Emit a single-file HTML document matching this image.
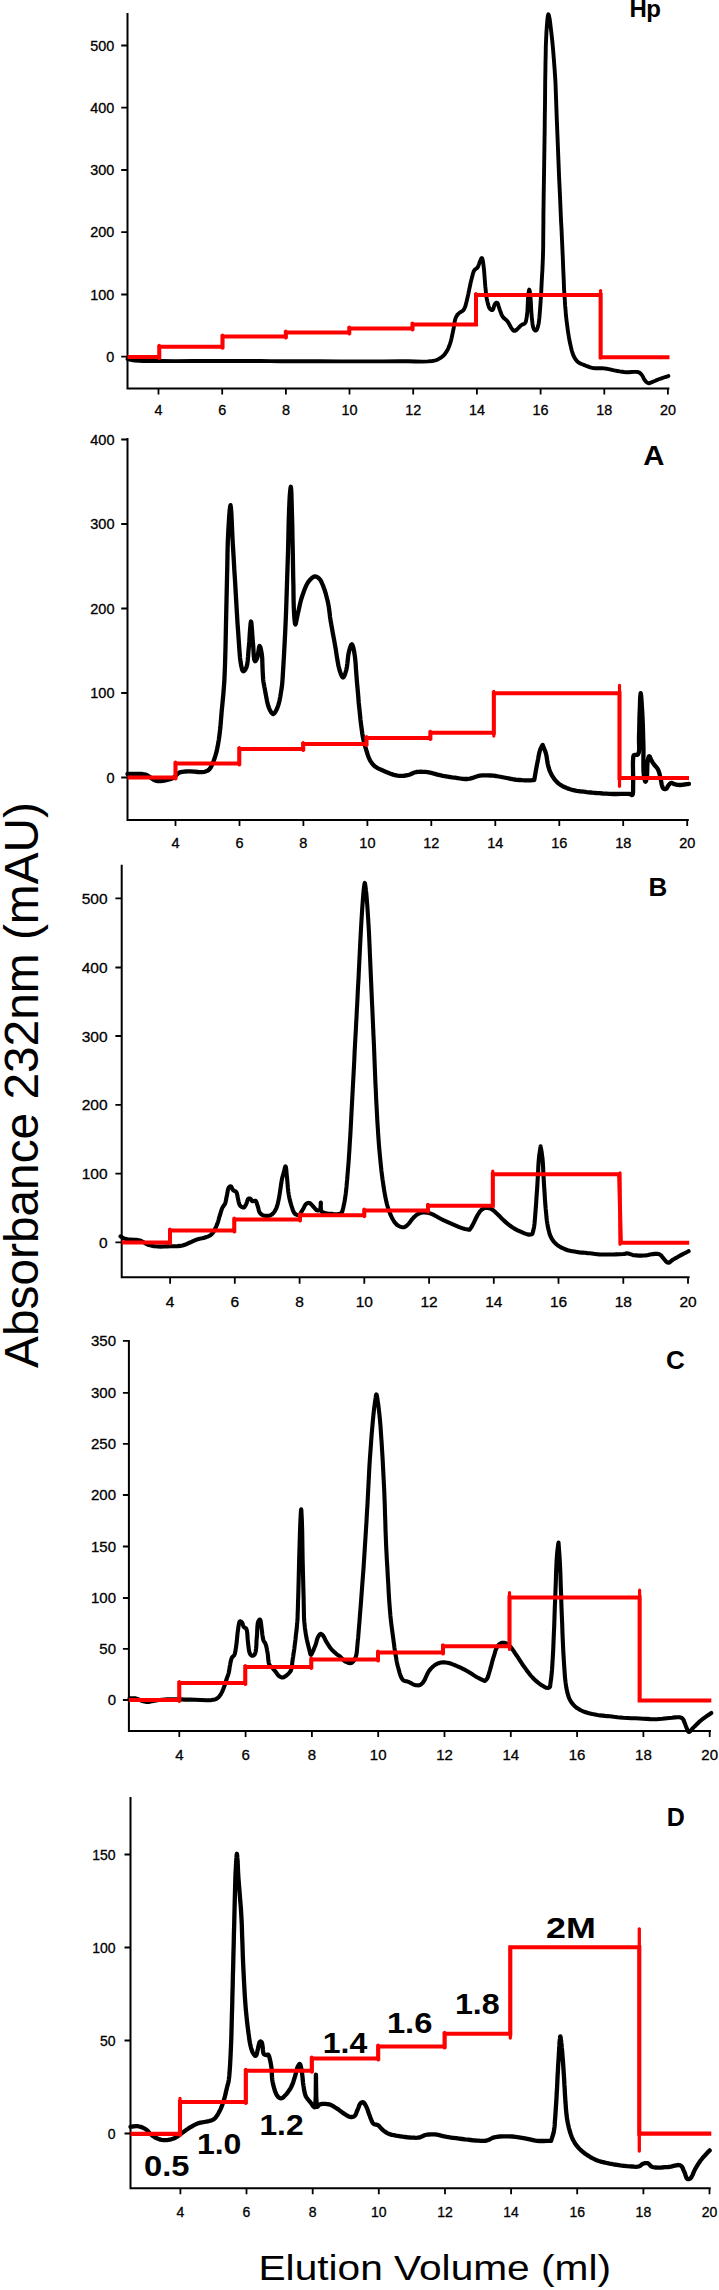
<!DOCTYPE html>
<html lang="en"><head><meta charset="utf-8"><title>Absorbance 232nm vs Elution Volume</title>
<style>
html,body{margin:0;padding:0;background:#fff}
body{width:719px;height:2290px;overflow:hidden}
svg{display:block}
text{font-family:"Liberation Sans",Arial,Helvetica,sans-serif;fill:#000}
.tl text{stroke:#000;stroke-width:0.3}
.axis{fill:none;stroke:#000;stroke-width:2;stroke-linecap:square}
.tick{fill:none;stroke:#000;stroke-width:1.8}
.bk{fill:none;stroke:#000;stroke-linejoin:round;stroke-linecap:round}
.rd{fill:none;stroke:#f00;stroke-linejoin:miter;stroke-linecap:butt}
.ov{fill:none;stroke:#f00;stroke-linecap:round}
.pl,.an{font-weight:bold}
</style></head><body>
<svg width="719" height="2290" viewBox="0 0 719 2290">
<rect width="719" height="2290" fill="#fff"/>
<g class="panel">
<path class="axis" d="M127.5 14.0V388.5H668.4"/>
<path class="tick" d="M121.2 45.5H127.5M121.2 107.7H127.5M121.2 170.0H127.5M121.2 232.2H127.5M121.2 294.5H127.5M121.2 356.7H127.5M158.5 388.5V394.5M222.2 388.5V394.5M285.9 388.5V394.5M349.5 388.5V394.5M413.2 388.5V394.5M476.9 388.5V394.5M540.6 388.5V394.5M604.3 388.5V394.5M667.9 388.5V394.5"/>
<g class="tl" font-size="14.4">
<text x="114.3" y="50.7" text-anchor="end">500</text>
<text x="114.3" y="112.9" text-anchor="end">400</text>
<text x="114.3" y="175.2" text-anchor="end">300</text>
<text x="114.3" y="237.4" text-anchor="end">200</text>
<text x="114.3" y="299.7" text-anchor="end">100</text>
<text x="114.3" y="361.9" text-anchor="end">0</text>
<text x="158.5" y="415.2" text-anchor="middle">4</text>
<text x="222.2" y="415.2" text-anchor="middle">6</text>
<text x="285.9" y="415.2" text-anchor="middle">8</text>
<text x="349.5" y="415.2" text-anchor="middle">10</text>
<text x="413.2" y="415.2" text-anchor="middle">12</text>
<text x="476.9" y="415.2" text-anchor="middle">14</text>
<text x="540.6" y="415.2" text-anchor="middle">16</text>
<text x="604.3" y="415.2" text-anchor="middle">18</text>
<text x="667.9" y="415.2" text-anchor="middle">20</text>
</g>
<polyline class="bk" stroke-width="3.9" points="127.5,359.0 128.0,359.1 129.2,359.5 131.0,359.9 133.0,360.3 135.0,360.6 138.8,360.9 143.2,361.0 148.2,361.0 153.8,361.0 160.0,361.0 174.9,361.1 193.2,361.0 213.2,361.0 232.8,361.0 250.0,361.0 260.7,361.0 270.2,361.1 279.5,361.2 289.1,361.3 300.0,361.3 318.7,361.3 340.2,361.4 362.3,361.4 383.0,361.4 400.0,361.3 408.0,361.3 415.5,361.5 422.2,361.6 427.9,361.4 432.5,361.0 434.1,360.7 435.4,360.4 436.6,360.0 437.7,359.5 438.8,358.9 440.1,358.1 441.4,357.3 442.7,356.3 443.9,355.1 445.0,353.9 446.2,352.2 447.3,350.3 448.3,348.3 449.2,346.1 450.0,343.9 450.8,341.3 451.5,338.5 452.1,335.6 452.7,332.8 453.3,330.0 453.8,327.4 454.2,324.7 454.6,322.0 455.1,319.6 455.8,317.6 456.3,316.6 456.9,315.7 457.4,314.9 458.1,314.1 458.8,313.4 459.7,312.6 460.8,312.0 461.9,311.4 462.9,310.6 463.8,309.6 464.8,307.7 465.6,305.5 466.2,302.9 466.9,300.3 467.5,297.6 468.3,294.2 469.0,290.6 469.8,286.9 470.5,283.3 471.3,280.1 471.9,277.8 472.5,275.5 473.0,273.4 473.7,271.5 474.5,270.0 475.1,269.4 475.7,268.9 476.3,268.6 476.9,268.2 477.5,267.6 478.1,266.5 478.6,265.2 479.1,263.8 479.5,262.5 480.0,261.3 480.4,260.5 480.7,259.6 481.1,258.8 481.5,258.2 481.8,258.0 482.2,258.4 482.5,259.4 482.8,260.7 483.0,262.2 483.3,263.8 483.7,266.9 484.1,270.6 484.4,274.6 484.7,278.7 485.0,282.6 485.3,286.2 485.7,289.9 486.0,293.5 486.4,296.9 487.0,300.0 487.5,302.1 488.0,304.2 488.6,306.1 489.2,307.7 490.0,308.9 490.5,309.3 491.0,309.7 491.5,310.0 492.0,310.1 492.5,310.0 493.1,309.3 493.6,308.0 494.0,306.4 494.5,305.0 495.0,303.9 495.4,303.5 495.8,303.1 496.2,302.8 496.6,302.6 497.0,302.6 497.6,303.2 498.1,304.3 498.5,305.8 499.0,307.4 499.5,308.9 500.0,310.4 500.6,312.0 501.1,313.5 501.7,315.0 502.5,316.4 503.4,317.5 504.4,318.5 505.5,319.4 506.5,320.3 507.5,321.4 508.5,322.9 509.4,324.5 510.3,326.2 511.1,327.7 512.0,328.9 512.5,329.5 513.0,330.0 513.5,330.5 514.0,330.8 514.5,330.9 515.1,330.8 515.7,330.5 516.3,330.0 516.9,329.4 517.5,328.9 518.2,328.2 519.0,327.4 519.7,326.6 520.5,325.8 521.3,325.1 522.0,324.7 522.8,324.4 523.6,324.1 524.4,323.7 525.0,323.1 525.7,321.9 526.1,320.5 526.4,318.9 526.7,317.0 527.0,315.1 527.4,311.5 527.6,307.2 527.8,302.6 528.0,298.4 528.3,295.1 528.5,293.6 528.7,292.1 528.9,290.8 529.1,289.9 529.3,289.6 529.5,290.1 529.8,291.5 530.0,293.4 530.3,295.5 530.5,297.6 530.8,301.1 531.0,305.2 531.2,309.6 531.5,313.8 531.8,317.6 532.1,320.2 532.4,322.9 532.7,325.3 533.2,327.4 533.8,328.9 534.2,329.5 534.6,330.0 535.0,330.3 535.4,330.6 535.8,330.6 536.3,330.3 536.8,329.6 537.2,328.7 537.6,327.6 538.0,326.4 538.6,323.9 539.0,320.9 539.4,317.5 539.7,313.9 540.0,310.1 540.4,304.6 540.8,298.6 541.2,292.3 541.5,286.1 541.8,280.1 542.1,274.9 542.4,269.9 542.6,264.9 542.8,260.0 543.0,255.0 543.1,250.1 543.2,245.2 543.2,240.3 543.3,235.3 543.3,230.0 543.4,223.3 543.4,216.4 543.5,209.2 543.6,201.7 543.7,193.6 543.9,181.7 544.1,168.7 544.3,155.2 544.5,141.6 544.7,128.5 544.8,116.4 545.0,104.2 545.1,92.3 545.2,80.8 545.4,70.0 545.5,61.9 545.7,54.0 545.8,46.5 546.1,39.5 546.4,33.0 546.7,28.2 547.1,23.2 547.5,18.7 547.9,15.5 548.4,14.2 548.9,15.4 549.6,18.6 550.2,23.1 550.8,28.2 551.4,33.0 552.2,40.3 553.0,48.6 553.7,57.4 554.4,66.3 555.0,75.0 555.5,83.3 555.8,91.6 556.1,99.9 556.4,108.4 556.7,117.0 557.1,126.7 557.5,136.7 557.9,146.8 558.3,156.9 558.7,167.0 559.1,177.3 559.6,187.9 560.1,198.4 560.5,208.2 560.9,217.0 561.1,222.2 561.4,226.8 561.6,231.2 561.8,235.6 562.0,240.0 562.2,244.5 562.4,248.9 562.6,253.3 562.8,257.8 563.0,262.6 563.2,268.6 563.5,275.0 563.8,281.6 564.0,288.1 564.4,294.3 564.8,299.8 565.1,305.2 565.6,310.6 566.0,315.8 566.6,320.9 567.2,325.6 567.8,330.2 568.5,334.8 569.2,339.0 570.0,343.0 570.6,345.7 571.2,348.3 571.8,350.7 572.5,353.0 573.3,355.1 574.0,356.7 574.8,358.1 575.7,359.5 576.6,360.7 577.7,361.8 578.9,362.7 580.1,363.4 581.5,364.0 582.9,364.5 584.3,365.1 586.0,365.8 587.7,366.4 589.5,367.1 591.3,367.6 593.2,368.0 595.3,368.2 597.5,368.3 599.7,368.3 602.0,368.3 604.2,368.4 606.4,368.7 608.6,369.2 610.9,369.7 613.1,370.2 615.3,370.6 617.5,371.0 619.7,371.4 621.9,371.7 624.1,372.0 626.3,372.2 628.8,372.2 631.5,372.0 634.2,371.9 636.6,371.9 638.5,372.2 639.4,372.6 640.1,373.1 640.7,373.7 641.2,374.3 641.8,375.0 642.5,376.0 643.1,377.2 643.7,378.4 644.4,379.6 645.1,380.6 645.7,381.3 646.4,382.0 647.1,382.5 647.8,383.0 648.5,383.2 649.3,383.2 650.2,382.9 651.0,382.5 652.0,382.1 652.9,381.7 654.1,381.2 655.4,380.7 656.7,380.1 658.1,379.5 659.5,379.0 661.5,378.3 663.8,377.5 666.0,376.8 667.7,376.3 668.4,376.1"/>
<path class="rd" stroke-width="4.0" d="M127.5 357.1H159.3 V346.8H222.5 V336.5H285.8 V332.5H349.3 V328.5H412.5 V324.5H476.0 V295.0H600.6 V357.2H669.5"/>
<path class="ov" stroke-width="3.20" d="M159.3 345.4V358.5M222.5 335.1V348.2M285.8 331.1V337.9M349.3 327.1V333.9M412.5 323.1V329.9M476.0 293.6V324.5M600.6 290.6V358.0"/>
</g>
<g class="panel">
<path class="axis" d="M127.5 439.0V820.0H687.8"/>
<path class="tick" d="M121.2 439.5H127.5M121.2 524.0H127.5M121.2 608.5H127.5M121.2 693.0H127.5M121.2 777.5H127.5M175.5 820.0V826.0M239.5 820.0V826.0M303.4 820.0V826.0M367.4 820.0V826.0M431.3 820.0V826.0M495.3 820.0V826.0M559.3 820.0V826.0M623.2 820.0V826.0M687.2 820.0V826.0"/>
<g class="tl" font-size="14.5">
<text x="114.5" y="444.7" text-anchor="end">400</text>
<text x="114.5" y="529.2" text-anchor="end">300</text>
<text x="114.5" y="613.7" text-anchor="end">200</text>
<text x="114.5" y="698.2" text-anchor="end">100</text>
<text x="114.5" y="782.7" text-anchor="end">0</text>
<text x="175.5" y="848.0" text-anchor="middle">4</text>
<text x="239.5" y="848.0" text-anchor="middle">6</text>
<text x="303.4" y="848.0" text-anchor="middle">8</text>
<text x="367.4" y="848.0" text-anchor="middle">10</text>
<text x="431.3" y="848.0" text-anchor="middle">12</text>
<text x="495.3" y="848.0" text-anchor="middle">14</text>
<text x="559.3" y="848.0" text-anchor="middle">16</text>
<text x="623.2" y="848.0" text-anchor="middle">18</text>
<text x="687.2" y="848.0" text-anchor="middle">20</text>
</g>
<polyline class="bk" stroke-width="4.3" points="127.5,774.0 128.9,773.9 132.6,773.8 137.3,773.8 142.1,774.0 145.9,774.7 148.0,775.7 149.9,777.0 151.7,778.4 153.4,779.6 155.0,780.5 156.1,780.8 157.2,781.0 158.2,781.1 159.3,781.1 160.5,781.0 162.8,780.8 165.4,780.3 168.1,779.7 170.8,778.9 173.0,778.0 174.4,777.0 175.7,775.8 176.8,774.6 178.0,773.5 179.3,772.6 180.8,772.1 182.3,771.8 184.0,771.6 185.7,771.5 187.6,771.4 190.7,771.4 194.3,771.7 198.1,772.0 201.5,772.1 204.3,771.8 205.5,771.5 206.6,771.1 207.5,770.7 208.4,770.1 209.3,769.3 210.6,767.7 211.7,765.6 212.8,763.2 213.8,760.6 214.7,758.0 215.7,754.7 216.7,751.1 217.5,747.3 218.2,743.4 218.9,739.3 219.6,733.9 220.3,728.1 220.8,722.1 221.3,716.0 221.8,710.0 222.4,704.3 222.9,698.8 223.4,693.2 223.9,687.0 224.4,680.0 225.0,665.2 225.5,647.5 225.9,628.5 226.3,609.7 226.7,592.4 227.0,579.0 227.3,565.9 227.5,553.3 227.8,541.6 228.3,531.2 228.7,524.5 229.1,517.5 229.6,511.3 230.1,506.9 230.5,505.2 230.9,507.6 231.4,513.9 231.8,522.5 232.2,531.8 232.6,540.4 233.2,550.2 233.8,560.5 234.4,571.2 235.1,581.9 235.7,592.4 236.3,602.6 236.9,612.9 237.5,623.1 238.2,632.7 238.8,641.4 239.2,647.1 239.6,652.6 240.0,657.7 240.6,662.2 241.2,665.8 241.6,667.3 241.9,668.8 242.3,670.0 242.8,670.9 243.3,671.3 243.9,671.1 244.5,670.6 245.2,669.7 245.8,668.6 246.4,667.4 247.2,664.5 247.7,660.7 248.1,656.4 248.4,651.9 248.8,647.5 249.3,641.7 249.7,634.9 250.2,628.3 250.6,623.4 251.0,621.5 251.4,622.9 251.7,626.6 252.1,631.5 252.4,636.8 252.8,641.4 253.2,646.0 253.5,651.1 253.8,656.0 254.3,659.6 255.0,661.2 255.4,661.1 255.8,660.6 256.3,659.9 256.7,659.1 257.1,658.2 257.7,655.9 258.2,652.8 258.7,649.6 259.1,647.0 259.6,646.0 260.0,646.5 260.5,647.7 260.9,649.5 261.3,651.5 261.7,653.6 262.2,658.1 262.4,663.7 262.6,669.7 262.9,675.4 263.2,680.0 263.5,682.1 263.8,683.8 264.1,685.4 264.4,687.1 264.8,689.0 265.4,692.5 266.2,696.6 267.0,700.9 267.9,704.8 269.0,708.0 269.7,709.7 270.6,711.3 271.4,712.7 272.3,713.6 273.1,714.0 274.0,713.6 274.8,712.7 275.7,711.3 276.5,709.7 277.3,708.0 278.4,704.9 279.4,701.2 280.2,697.1 280.9,693.0 281.5,689.2 281.9,686.4 282.2,683.8 282.4,681.2 282.6,678.4 282.8,675.0 283.3,666.8 283.9,656.8 284.5,645.7 285.1,634.2 285.6,623.0 286.1,611.1 286.5,598.9 286.9,586.5 287.3,574.1 287.7,561.8 288.1,548.9 288.4,535.2 288.7,521.9 289.1,510.0 289.5,500.6 289.7,496.8 290.0,493.0 290.3,489.9 290.6,487.6 290.8,486.8 291.1,488.7 291.4,493.7 291.6,500.7 291.8,508.5 292.0,515.9 292.3,526.9 292.5,539.5 292.8,552.7 293.0,565.5 293.2,577.1 293.4,585.4 293.5,593.5 293.6,601.2 293.8,608.0 294.1,613.8 294.3,616.7 294.5,619.6 294.8,622.1 295.1,623.8 295.4,624.5 295.8,623.8 296.2,621.9 296.7,619.3 297.2,616.5 297.8,613.8 298.6,610.4 299.4,606.7 300.3,602.8 301.3,599.0 302.4,595.5 303.5,592.5 304.6,589.4 305.8,586.5 307.1,583.9 308.5,581.7 309.6,580.3 310.9,578.9 312.1,577.8 313.4,576.9 314.6,576.5 315.6,576.5 316.5,576.8 317.5,577.2 318.4,577.9 319.2,578.6 320.3,579.9 321.3,581.6 322.1,583.5 323.0,585.6 323.8,587.8 324.9,590.8 325.9,594.2 326.8,597.7 327.7,601.2 328.4,604.6 328.9,607.7 329.3,610.6 329.7,613.6 330.0,616.7 330.5,620.0 331.3,624.6 332.2,629.6 333.1,634.7 334.1,639.9 335.0,645.0 335.9,650.2 336.7,655.7 337.6,661.1 338.5,666.0 339.5,670.0 340.2,672.1 340.9,674.1 341.6,675.8 342.3,677.0 343.0,677.5 343.7,677.0 344.4,675.7 345.1,674.0 345.7,672.0 346.3,670.0 346.9,666.9 347.4,663.2 347.8,659.4 348.2,655.7 348.8,652.5 349.3,650.4 349.9,648.2 350.6,646.2 351.2,644.8 351.8,644.3 352.3,644.8 352.9,646.1 353.4,648.0 353.9,650.3 354.3,652.5 355.0,657.3 355.6,663.1 356.0,669.5 356.5,676.1 357.0,682.5 357.6,689.0 358.2,695.7 358.7,702.4 359.4,708.9 360.0,715.0 360.5,719.9 361.1,724.7 361.7,729.2 362.3,733.6 363.0,737.6 363.6,740.4 364.2,743.0 364.9,745.5 365.6,747.8 366.3,750.2 367.0,752.3 367.6,754.4 368.3,756.5 369.1,758.4 370.0,760.2 370.8,761.6 371.7,762.9 372.7,764.2 373.8,765.3 375.0,766.4 376.7,767.6 378.6,768.6 380.7,769.6 382.8,770.5 385.0,771.4 387.4,772.4 389.9,773.5 392.5,774.4 395.0,775.2 397.5,775.7 399.6,775.9 401.6,775.9 403.6,775.8 405.6,775.5 407.5,775.2 409.3,774.7 411.0,774.0 412.7,773.2 414.5,772.5 416.3,772.0 418.4,771.8 420.6,771.7 422.9,771.8 425.2,771.9 427.5,772.2 429.9,772.6 432.4,773.2 434.9,773.9 437.4,774.6 440.0,775.2 442.9,775.8 446.0,776.3 449.0,776.8 452.1,777.3 455.0,777.7 457.6,778.1 460.1,778.5 462.6,778.9 465.0,779.0 467.5,779.0 470.0,778.6 472.5,777.9 475.0,777.0 477.5,776.2 480.0,775.7 482.6,775.4 485.3,775.3 488.0,775.4 490.6,775.5 493.3,775.7 496.0,776.0 498.7,776.5 501.4,777.0 504.1,777.5 506.6,778.0 508.7,778.4 510.7,778.8 512.6,779.2 514.6,779.5 516.7,779.8 519.4,780.0 522.2,780.2 525.1,780.3 527.8,780.3 530.0,780.3 531.1,780.3 532.3,780.2 533.2,780.2 533.9,780.1 534.2,780.1 534.2,780.1 534.2,780.1 534.2,780.1 534.2,780.1 534.2,780.1 534.5,778.7 535.1,775.2 535.9,770.5 536.8,765.7 537.6,761.7 538.1,759.1 538.5,756.6 539.0,754.2 539.5,752.0 540.1,750.0 540.6,748.7 541.3,747.3 541.9,746.1 542.4,745.2 542.6,744.9 542.6,744.9 542.6,744.9 542.6,744.9 542.6,744.9 542.6,744.9 542.9,745.5 543.5,747.0 544.3,749.0 545.2,751.3 545.9,753.4 546.5,755.9 546.9,758.6 547.3,761.5 547.8,764.2 548.4,766.7 549.0,768.5 549.5,770.3 550.2,771.9 550.9,773.5 551.8,775.1 552.9,776.9 554.0,778.6 555.3,780.3 556.8,781.9 558.4,783.4 560.4,784.9 562.6,786.2 565.0,787.3 567.5,788.4 570.1,789.3 573.3,790.2 576.7,790.8 580.3,791.3 583.7,791.7 586.8,792.1 588.8,792.3 590.7,792.5 592.5,792.7 594.4,792.8 596.4,793.0 599.4,793.2 602.7,793.5 606.1,793.7 609.6,793.9 613.0,794.0 616.6,794.0 620.4,793.9 624.2,793.8 627.4,793.8 629.8,794.0 630.5,794.2 631.0,794.6 631.5,794.9 631.9,795.1 632.3,795.0 632.8,794.2 633.0,792.6 633.1,790.6 633.1,788.3 633.1,785.9 633.2,781.1 633.1,775.2 633.0,769.0 632.9,763.5 633.1,759.4 633.2,758.3 633.2,757.3 633.3,756.5 633.5,755.8 633.9,755.2 634.5,754.9 635.4,754.9 636.4,754.9 637.3,754.8 638.0,754.4 638.9,752.2 639.2,748.9 639.1,744.8 639.0,740.4 639.0,736.2 639.2,731.4 639.3,726.4 639.4,721.2 639.5,716.2 639.7,711.4 639.9,707.0 640.0,702.2 640.2,697.7 640.5,694.5 640.7,693.2 641.0,694.4 641.3,697.6 641.6,702.0 641.9,706.8 642.2,711.4 642.5,717.4 642.8,724.0 643.0,730.8 643.2,737.8 643.4,744.5 643.5,751.2 643.4,758.3 643.4,765.2 643.5,771.2 643.9,775.9 644.2,777.6 644.5,779.1 644.8,780.4 645.2,781.4 645.5,781.7 645.8,781.5 646.1,780.8 646.3,779.8 646.6,778.7 646.8,777.6 647.1,774.8 647.2,771.3 647.3,767.5 647.4,763.9 647.7,761.0 647.9,759.7 648.2,758.4 648.5,757.2 648.8,756.4 649.2,756.1 649.6,756.4 650.0,757.1 650.4,758.1 650.8,759.2 651.3,760.2 651.9,761.2 652.5,762.2 653.2,763.2 653.9,764.2 654.6,765.2 655.3,766.0 656.0,766.8 656.7,767.5 657.3,768.4 657.9,769.3 658.5,770.7 659.1,772.4 659.6,774.1 660.0,775.9 660.4,777.6 660.8,779.3 661.1,781.1 661.4,782.9 661.7,784.5 662.1,785.9 662.4,786.6 662.6,787.3 662.9,787.9 663.3,788.4 663.7,788.8 664.1,789.0 664.7,789.1 665.2,789.1 665.7,789.0 666.2,788.8 666.8,788.3 667.2,787.5 667.7,786.6 668.2,785.7 668.7,785.0 669.2,784.5 669.6,784.0 670.1,783.5 670.7,783.2 671.2,783.0 671.8,783.0 672.4,783.3 673.1,783.6 673.8,783.9 674.5,784.2 675.4,784.4 676.4,784.6 677.4,784.8 678.4,784.9 679.4,785.0 680.4,785.0 681.4,784.9 682.4,784.8 683.4,784.6 684.4,784.5 685.5,784.4 686.7,784.2 687.8,784.1 688.7,783.9 689.0,783.9"/>
<path class="rd" stroke-width="4.0" d="M127.5 777.6H175.5 V763.5H239.3 V749.0H303.2 V744.0H366.5 V738.0H430.4 V732.7H493.8 V693.3H619.5 V778.1H689.0"/>
<path class="ov" stroke-width="3.20" d="M175.5 762.1V779.0M239.3 747.6V764.9M303.2 742.6V750.4M366.5 736.6V745.4M430.4 731.3V739.4M493.8 691.4V736.1M619.5 685.3V786.3"/>
</g>
<g class="panel">
<path class="axis" d="M121.7 865.8V1277.3H688.6"/>
<path class="tick" d="M115.4 898.4H121.7M115.4 967.5H121.7M115.4 1036.0H121.7M115.4 1104.8H121.7M115.4 1173.7H121.7M115.4 1242.4H121.7M170.1 1277.3V1283.8M234.8 1277.3V1283.8M299.6 1277.3V1283.8M364.3 1277.3V1283.8M429.1 1277.3V1283.8M493.8 1277.3V1283.8M558.5 1277.3V1283.8M623.3 1277.3V1283.8M688.0 1277.3V1283.8"/>
<g class="tl" font-size="15.5">
<text x="107.6" y="903.9" text-anchor="end">500</text>
<text x="107.6" y="973.0" text-anchor="end">400</text>
<text x="107.6" y="1041.5" text-anchor="end">300</text>
<text x="107.6" y="1110.3" text-anchor="end">200</text>
<text x="107.6" y="1179.2" text-anchor="end">100</text>
<text x="107.6" y="1247.9" text-anchor="end">0</text>
<text x="170.1" y="1307.2" text-anchor="middle">4</text>
<text x="234.8" y="1307.2" text-anchor="middle">6</text>
<text x="299.6" y="1307.2" text-anchor="middle">8</text>
<text x="364.3" y="1307.2" text-anchor="middle">10</text>
<text x="429.1" y="1307.2" text-anchor="middle">12</text>
<text x="493.8" y="1307.2" text-anchor="middle">14</text>
<text x="558.5" y="1307.2" text-anchor="middle">16</text>
<text x="623.3" y="1307.2" text-anchor="middle">18</text>
<text x="688.0" y="1307.2" text-anchor="middle">20</text>
</g>
<polyline class="bk" stroke-width="4.1" points="120.5,1236.3 120.8,1236.5 121.5,1237.0 122.5,1237.6 123.8,1238.3 125.0,1238.8 127.5,1239.3 130.6,1239.5 134.0,1239.7 137.2,1239.9 140.0,1240.5 141.7,1241.2 143.2,1242.0 144.6,1242.9 146.0,1243.8 147.5,1244.5 148.9,1245.0 150.3,1245.4 151.8,1245.8 153.3,1246.1 155.0,1246.3 157.7,1246.5 160.7,1246.6 163.8,1246.5 167.0,1246.4 170.0,1246.3 172.6,1246.2 175.3,1246.2 177.8,1246.1 180.2,1245.9 182.5,1245.5 184.1,1245.0 185.7,1244.5 187.1,1243.8 188.5,1243.1 190.0,1242.5 191.5,1241.9 193.0,1241.2 194.5,1240.5 196.0,1239.9 197.5,1239.3 199.0,1238.9 200.5,1238.6 202.1,1238.3 203.6,1237.9 205.0,1237.5 206.3,1237.0 207.7,1236.6 209.0,1236.0 210.2,1235.4 211.3,1234.5 212.5,1233.2 213.6,1231.7 214.5,1230.0 215.4,1228.1 216.3,1226.3 217.2,1224.1 218.0,1221.8 218.7,1219.5 219.3,1217.1 220.0,1215.0 220.5,1213.4 221.0,1211.7 221.5,1210.2 221.9,1208.8 222.5,1207.5 223.0,1206.7 223.5,1206.0 224.0,1205.3 224.5,1204.6 225.0,1203.8 225.5,1202.3 225.9,1200.5 226.3,1198.7 226.6,1196.8 227.0,1195.0 227.3,1193.4 227.6,1191.6 227.9,1190.0 228.3,1188.6 228.8,1187.5 229.2,1187.1 229.6,1186.7 230.0,1186.4 230.4,1186.3 230.8,1186.3 231.3,1186.7 231.7,1187.4 232.1,1188.3 232.5,1189.3 233.0,1190.0 233.6,1190.5 234.3,1190.8 235.0,1191.1 235.7,1191.5 236.3,1192.0 236.8,1193.1 237.2,1194.4 237.4,1195.9 237.7,1197.4 238.0,1198.8 238.3,1200.2 238.6,1201.7 239.0,1203.2 239.4,1204.5 240.0,1205.5 240.7,1206.2 241.4,1206.8 242.3,1207.2 243.1,1207.5 243.8,1207.5 244.4,1207.1 244.9,1206.5 245.4,1205.6 245.9,1204.7 246.3,1203.8 246.7,1202.8 247.1,1201.6 247.4,1200.4 247.8,1199.4 248.3,1198.8 248.7,1198.6 249.2,1198.5 249.6,1198.5 250.1,1198.6 250.5,1198.8 250.9,1199.2 251.3,1199.7 251.7,1200.4 252.0,1201.0 252.5,1201.3 253.1,1201.3 253.7,1201.1 254.3,1200.9 255.0,1200.7 255.5,1200.8 256.0,1201.3 256.5,1202.2 256.8,1203.2 257.1,1204.4 257.5,1205.5 258.0,1207.0 258.4,1208.6 258.8,1210.3 259.3,1211.8 260.0,1213.0 260.6,1213.7 261.3,1214.3 262.1,1214.8 262.9,1215.2 263.8,1215.5 265.0,1215.8 266.2,1215.9 267.6,1215.9 268.9,1215.8 270.0,1215.5 270.9,1215.1 271.7,1214.6 272.4,1214.0 273.1,1213.3 273.8,1212.5 274.6,1211.5 275.2,1210.3 275.9,1209.1 276.5,1207.7 277.0,1206.3 277.6,1204.3 278.1,1202.2 278.6,1199.9 279.1,1197.5 279.5,1195.0 280.0,1191.8 280.5,1188.4 281.0,1184.9 281.5,1181.6 282.0,1178.8 282.4,1177.3 282.7,1176.1 283.1,1174.9 283.4,1173.7 283.8,1172.5 284.2,1171.1 284.5,1169.4 284.9,1167.9 285.2,1166.7 285.5,1166.3 285.9,1167.1 286.2,1169.1 286.4,1171.8 286.7,1174.7 287.0,1177.5 287.3,1180.8 287.6,1184.4 287.9,1188.0 288.3,1191.6 288.8,1195.0 289.3,1197.7 289.9,1200.4 290.6,1202.9 291.3,1205.3 292.0,1207.5 292.5,1209.0 293.0,1210.5 293.6,1211.8 294.2,1212.9 295.0,1213.8 295.7,1214.3 296.5,1214.7 297.3,1215.0 298.1,1215.1 298.8,1215.0 299.6,1214.5 300.4,1213.6 301.1,1212.4 301.8,1211.2 302.5,1210.0 303.3,1208.7 304.0,1207.3 304.7,1205.9 305.5,1204.7 306.3,1203.8 306.9,1203.4 307.6,1203.1 308.2,1203.0 308.9,1202.9 309.5,1203.0 310.2,1203.4 310.9,1204.0 311.6,1204.7 312.3,1205.5 313.0,1206.3 313.9,1207.2 314.8,1208.3 315.7,1209.3 316.6,1210.1 317.5,1210.5 318.0,1210.5 318.6,1210.4 319.1,1210.2 319.6,1209.9 320.0,1209.5 320.4,1208.3 320.6,1206.5 320.7,1204.6 320.7,1203.1 320.8,1202.5 320.9,1203.3 320.8,1205.1 320.8,1207.5 321.0,1209.7 321.5,1211.3 322.0,1211.9 322.7,1212.3 323.4,1212.5 324.2,1212.8 325.0,1213.0 325.9,1213.2 326.9,1213.4 327.8,1213.6 328.9,1213.7 330.0,1213.8 331.7,1213.9 333.6,1214.1 335.5,1214.2 337.3,1214.2 338.8,1214.0 339.5,1213.9 340.1,1213.7 340.6,1213.5 341.1,1213.2 341.5,1212.8 342.1,1211.9 342.5,1210.8 342.8,1209.4 343.2,1208.0 343.5,1206.5 344.0,1204.3 344.5,1201.9 344.9,1199.4 345.3,1196.7 345.7,1194.0 346.1,1190.5 346.5,1186.9 346.8,1183.1 347.2,1179.2 347.5,1175.2 347.9,1170.5 348.3,1165.7 348.7,1160.7 349.0,1155.6 349.4,1150.2 349.8,1143.2 350.3,1135.7 350.7,1128.1 351.1,1120.3 351.5,1112.7 351.9,1105.2 352.3,1097.7 352.7,1090.1 353.1,1082.6 353.5,1075.1 353.9,1067.6 354.3,1060.0 354.6,1052.4 355.0,1045.0 355.4,1037.6 355.8,1030.8 356.1,1024.2 356.5,1017.6 356.8,1010.9 357.2,1004.0 357.6,995.8 358.0,987.4 358.5,978.8 358.9,970.2 359.3,961.8 359.7,953.9 360.1,945.9 360.5,938.1 360.9,930.6 361.3,923.6 361.6,918.5 361.9,913.6 362.2,909.0 362.5,904.6 362.8,900.6 363.0,898.0 363.2,895.5 363.4,893.2 363.6,891.0 363.8,889.0 364.0,887.5 364.2,885.9 364.4,884.4 364.6,883.4 364.8,883.0 365.0,883.4 365.2,884.4 365.4,885.9 365.6,887.5 365.8,889.0 366.0,891.0 366.3,893.1 366.5,895.4 366.7,897.9 366.9,900.6 367.3,905.7 367.7,911.5 368.1,917.8 368.5,924.4 368.9,931.2 369.3,939.8 369.7,949.0 370.1,958.4 370.5,967.9 370.9,977.1 371.3,986.1 371.7,995.3 372.1,1004.3 372.5,1012.6 372.8,1020.0 373.0,1023.9 373.1,1027.3 373.3,1030.5 373.4,1033.8 373.6,1037.6 373.9,1044.2 374.2,1051.6 374.5,1059.4 374.8,1067.4 375.1,1075.1 375.4,1082.6 375.8,1090.1 376.1,1097.7 376.5,1105.2 376.9,1112.7 377.3,1120.3 377.8,1128.1 378.3,1135.8 378.8,1143.2 379.4,1150.2 379.9,1155.6 380.4,1160.7 380.9,1165.7 381.4,1170.5 382.0,1175.2 382.5,1179.2 383.1,1183.1 383.6,1186.9 384.2,1190.5 384.8,1194.0 385.3,1196.7 385.8,1199.2 386.3,1201.6 386.9,1204.1 387.6,1206.5 388.4,1209.1 389.4,1211.8 390.4,1214.4 391.5,1216.8 392.6,1219.0 393.5,1220.5 394.4,1221.9 395.4,1223.2 396.5,1224.4 397.6,1225.3 398.8,1226.0 400.1,1226.6 401.4,1227.0 402.7,1227.2 403.9,1227.2 404.8,1226.9 405.6,1226.5 406.4,1225.9 407.2,1225.2 408.0,1224.5 408.9,1223.5 409.8,1222.4 410.7,1221.1 411.6,1219.9 412.5,1218.8 413.4,1217.8 414.4,1216.8 415.4,1215.9 416.4,1215.0 417.5,1214.3 418.4,1213.8 419.4,1213.3 420.4,1213.0 421.4,1212.7 422.5,1212.5 423.9,1212.4 425.3,1212.4 426.8,1212.6 428.4,1212.9 430.0,1213.3 432.1,1214.1 434.3,1215.2 436.6,1216.5 438.8,1217.8 441.1,1219.0 443.3,1220.1 445.6,1221.1 447.8,1222.1 450.1,1223.1 452.3,1224.1 454.6,1225.1 456.9,1226.1 459.2,1227.1 461.4,1227.9 463.4,1228.6 464.9,1229.0 466.5,1229.3 468.0,1229.6 469.1,1229.7 469.5,1229.8 469.5,1229.8 469.5,1229.8 469.5,1229.8 469.5,1229.8 469.5,1229.8 469.7,1229.5 470.2,1228.8 470.9,1227.9 471.6,1226.8 472.3,1225.7 473.1,1224.1 474.0,1222.3 474.9,1220.4 475.8,1218.5 476.7,1216.8 477.5,1215.3 478.4,1213.8 479.3,1212.4 480.2,1211.1 481.2,1210.1 482.0,1209.4 482.9,1208.9 483.7,1208.4 484.7,1208.1 485.6,1207.9 486.7,1207.8 487.8,1207.9 489.0,1208.2 490.1,1208.5 491.2,1209.0 492.4,1209.7 493.5,1210.5 494.6,1211.4 495.7,1212.5 496.8,1213.5 498.1,1214.7 499.4,1216.0 500.7,1217.4 502.0,1218.8 503.4,1220.1 505.1,1221.6 506.8,1223.1 508.6,1224.6 510.5,1226.0 512.3,1227.3 514.0,1228.4 515.8,1229.4 517.6,1230.3 519.4,1231.1 521.2,1231.9 522.8,1232.6 524.5,1233.3 526.1,1233.9 527.6,1234.4 529.0,1234.6 529.9,1234.6 530.8,1234.4 531.6,1234.2 532.2,1234.0 532.4,1233.9 532.4,1233.9 532.4,1233.9 532.4,1233.9 532.4,1233.9 532.4,1233.9 532.5,1233.4 532.9,1232.2 533.3,1230.6 533.7,1228.7 534.1,1226.8 534.5,1223.8 534.8,1220.4 535.1,1216.8 535.4,1212.9 535.7,1209.0 536.1,1204.0 536.4,1198.7 536.8,1193.2 537.2,1187.7 537.5,1182.3 537.8,1177.2 538.1,1172.0 538.3,1166.9 538.6,1162.1 539.0,1157.8 539.3,1154.9 539.8,1151.8 540.2,1149.0 540.5,1147.1 540.6,1146.3 540.6,1146.3 540.6,1146.3 540.6,1146.3 540.6,1146.3 540.6,1146.3 540.7,1147.1 541.1,1149.0 541.6,1151.8 542.0,1154.9 542.4,1157.8 542.8,1162.1 543.1,1166.9 543.3,1172.0 543.6,1177.2 543.9,1182.3 544.2,1187.7 544.6,1193.2 544.9,1198.7 545.3,1204.0 545.7,1209.0 546.1,1212.9 546.4,1216.6 546.8,1220.2 547.3,1223.6 547.9,1226.8 548.4,1229.3 549.0,1231.6 549.6,1233.9 550.4,1236.0 551.3,1237.9 552.2,1239.4 553.2,1240.9 554.3,1242.2 555.5,1243.4 556.8,1244.6 558.4,1245.8 560.1,1246.9 561.9,1247.8 563.8,1248.7 565.7,1249.5 567.8,1250.2 570.0,1250.8 572.3,1251.2 574.6,1251.6 576.9,1252.0 579.5,1252.4 582.2,1252.6 584.9,1252.8 587.5,1253.1 590.0,1253.3 591.9,1253.5 593.6,1253.8 595.3,1254.0 597.2,1254.2 599.3,1254.4 603.7,1254.5 609.2,1254.5 614.8,1254.4 619.8,1254.2 623.5,1254.0 624.5,1253.9 625.3,1253.7 625.9,1253.5 626.6,1253.4 627.4,1253.4 628.6,1253.6 629.8,1254.0 631.1,1254.4 632.5,1254.9 634.0,1255.2 636.2,1255.4 638.6,1255.6 641.2,1255.6 643.6,1255.5 645.7,1255.4 647.0,1255.2 648.1,1255.0 649.2,1254.7 650.3,1254.5 651.5,1254.3 653.0,1254.1 654.7,1253.9 656.4,1253.8 657.9,1253.9 659.3,1254.2 660.2,1254.7 661.0,1255.4 661.7,1256.2 662.3,1257.1 663.1,1257.9 664.0,1259.0 665.0,1260.2 666.0,1261.4 667.0,1262.3 668.0,1262.7 668.9,1262.6 669.8,1262.1 670.8,1261.3 671.8,1260.5 672.8,1259.8 674.2,1259.0 675.7,1258.1 677.3,1257.2 678.9,1256.3 680.5,1255.4 682.4,1254.4 684.5,1253.3 686.5,1252.3 688.0,1251.5 688.6,1251.2"/>
<path class="rd" stroke-width="4.0" d="M121.7 1242.5H170.0 V1230.5H234.3 V1219.6H300.0 V1215.2H364.3 V1210.6H428.0 V1205.8H492.8 V1174.2H619.1 L620.9 1242.8H689.2"/>
<path class="ov" stroke-width="3.20" d="M170.0 1229.1V1243.9M234.3 1218.2V1231.9M300.0 1213.8V1221.0M364.3 1209.2V1216.6M428.0 1204.4V1212.0M492.8 1171.0V1205.8M620.0 1172.8V1244.2"/>
</g>
<g class="panel">
<path class="axis" d="M128.9 1340.9V1731.0H710.0"/>
<path class="tick" d="M122.9 1340.9H128.9M122.9 1392.8H128.9M122.9 1443.9H128.9M122.9 1495.0H128.9M122.9 1546.5H128.9M122.9 1598.0H128.9M122.9 1648.8H128.9M122.9 1700.0H128.9M179.3 1731.0V1737.0M245.6 1731.0V1737.0M311.9 1731.0V1737.0M378.2 1731.0V1737.0M444.5 1731.0V1737.0M510.8 1731.0V1737.0M577.1 1731.0V1737.0M643.4 1731.0V1737.0M709.7 1731.0V1737.0"/>
<g class="tl" font-size="15">
<text x="116.0" y="1346.3" text-anchor="end">350</text>
<text x="116.0" y="1398.2" text-anchor="end">300</text>
<text x="116.0" y="1449.3" text-anchor="end">250</text>
<text x="116.0" y="1500.4" text-anchor="end">200</text>
<text x="116.0" y="1551.9" text-anchor="end">150</text>
<text x="116.0" y="1603.4" text-anchor="end">100</text>
<text x="116.0" y="1654.2" text-anchor="end">50</text>
<text x="116.0" y="1705.4" text-anchor="end">0</text>
<text x="179.3" y="1759.5" text-anchor="middle">4</text>
<text x="245.6" y="1759.5" text-anchor="middle">6</text>
<text x="311.9" y="1759.5" text-anchor="middle">8</text>
<text x="378.2" y="1759.5" text-anchor="middle">10</text>
<text x="444.5" y="1759.5" text-anchor="middle">12</text>
<text x="510.8" y="1759.5" text-anchor="middle">14</text>
<text x="577.1" y="1759.5" text-anchor="middle">16</text>
<text x="643.4" y="1759.5" text-anchor="middle">18</text>
<text x="709.7" y="1759.5" text-anchor="middle">20</text>
</g>
<polyline class="bk" stroke-width="4.1" points="129.5,1698.3 129.9,1698.3 130.9,1698.2 132.2,1698.2 133.7,1698.2 135.0,1698.3 136.5,1698.7 138.0,1699.2 139.6,1699.9 141.1,1700.5 142.5,1701.0 143.5,1701.3 144.5,1701.6 145.5,1701.8 146.4,1701.9 147.5,1702.0 148.9,1701.9 150.3,1701.6 151.8,1701.3 153.3,1700.9 155.0,1700.6 157.2,1700.3 159.6,1700.0 162.1,1699.8 164.7,1699.6 167.5,1699.4 171.6,1699.3 176.0,1699.3 180.6,1699.4 185.3,1699.6 190.0,1699.6 195.2,1699.7 200.9,1700.0 206.4,1700.2 211.3,1700.1 215.0,1699.4 216.4,1698.8 217.4,1698.1 218.4,1697.4 219.2,1696.5 220.0,1695.5 220.9,1694.1 221.7,1692.6 222.5,1690.9 223.2,1689.2 223.8,1687.5 224.4,1686.0 224.9,1684.5 225.4,1683.0 225.8,1681.5 226.3,1680.0 226.8,1678.5 227.3,1677.1 227.9,1675.6 228.4,1674.1 228.8,1672.5 229.2,1670.5 229.5,1668.4 229.8,1666.3 230.2,1664.3 230.5,1662.5 230.8,1661.4 231.0,1660.3 231.3,1659.3 231.6,1658.3 232.0,1657.5 232.4,1657.0 232.9,1656.5 233.4,1656.1 233.9,1655.6 234.3,1655.0 234.9,1653.5 235.3,1651.6 235.7,1649.5 236.0,1647.2 236.3,1645.0 236.7,1642.1 237.0,1639.0 237.3,1635.8 237.6,1632.8 238.0,1630.0 238.3,1627.9 238.6,1625.6 239.0,1623.6 239.4,1622.1 240.0,1621.3 240.4,1621.3 240.8,1621.4 241.2,1621.7 241.6,1622.1 242.0,1622.5 242.4,1623.2 242.7,1624.2 243.0,1625.2 243.4,1626.2 243.8,1627.0 244.3,1627.4 244.8,1627.7 245.3,1627.9 245.9,1628.3 246.3,1628.8 246.9,1630.7 247.3,1633.4 247.5,1636.5 247.7,1639.6 248.0,1642.5 248.3,1645.0 248.6,1647.6 248.9,1650.0 249.4,1652.2 250.0,1653.8 250.4,1654.4 250.9,1655.0 251.5,1655.4 252.0,1655.7 252.5,1655.8 253.0,1655.7 253.6,1655.4 254.1,1655.0 254.6,1654.5 255.0,1653.8 255.7,1651.6 256.1,1648.5 256.4,1644.8 256.5,1641.0 256.8,1637.5 257.1,1634.0 257.2,1630.2 257.4,1626.6 257.7,1623.5 258.3,1621.3 258.6,1620.7 259.0,1620.2 259.3,1619.8 259.7,1619.5 260.0,1619.5 260.5,1620.4 260.9,1622.3 261.2,1624.9 261.5,1627.6 261.8,1630.0 262.1,1632.1 262.3,1634.3 262.6,1636.4 262.9,1638.3 263.3,1640.0 263.7,1640.9 264.1,1641.6 264.6,1642.2 265.1,1643.0 265.5,1643.8 266.0,1645.3 266.4,1646.9 266.8,1648.7 267.1,1650.6 267.5,1652.5 267.9,1655.0 268.1,1657.8 268.4,1660.6 268.8,1663.1 269.5,1665.0 270.0,1665.8 270.6,1666.4 271.2,1666.9 271.9,1667.4 272.5,1668.0 273.2,1668.8 273.8,1669.5 274.5,1670.4 275.1,1671.2 275.8,1672.0 276.4,1672.8 277.0,1673.7 277.6,1674.6 278.3,1675.4 279.0,1676.0 279.7,1676.5 280.4,1676.9 281.2,1677.2 281.9,1677.5 282.7,1677.5 283.6,1677.3 284.4,1676.9 285.3,1676.3 286.2,1675.7 287.0,1675.0 287.9,1674.2 288.7,1673.4 289.5,1672.5 290.3,1671.5 290.9,1670.4 291.5,1668.6 291.9,1666.6 292.1,1664.3 292.3,1662.1 292.6,1660.0 292.9,1658.2 293.2,1656.5 293.4,1654.7 293.7,1652.9 294.0,1651.0 294.4,1648.3 294.7,1645.4 295.1,1642.4 295.5,1639.3 295.8,1636.3 296.1,1633.4 296.5,1630.6 296.8,1627.8 297.0,1624.9 297.3,1621.7 297.6,1617.3 297.7,1612.7 297.9,1607.8 298.0,1602.7 298.2,1597.4 298.4,1590.1 298.6,1582.2 298.8,1574.0 299.0,1565.8 299.2,1558.0 299.4,1551.0 299.6,1544.0 299.8,1537.2 300.0,1530.8 300.2,1525.0 300.4,1521.0 300.6,1516.8 300.8,1513.0 301.0,1510.3 301.2,1509.3 301.4,1510.3 301.5,1513.0 301.7,1516.8 301.9,1521.0 302.0,1525.0 302.2,1530.8 302.3,1537.2 302.4,1544.0 302.5,1551.0 302.6,1558.0 302.8,1565.8 303.0,1574.0 303.2,1582.2 303.4,1590.1 303.6,1597.4 303.7,1602.7 303.8,1607.8 303.9,1612.7 304.0,1617.3 304.3,1621.7 304.6,1624.9 304.9,1627.8 305.3,1630.7 305.7,1633.4 306.2,1636.3 306.8,1639.4 307.5,1642.6 308.3,1645.7 309.0,1648.6 309.6,1650.9 309.9,1652.0 310.1,1653.0 310.3,1653.9 310.6,1654.5 310.9,1654.8 311.3,1654.6 311.7,1653.9 312.1,1653.0 312.6,1652.0 313.0,1651.0 313.6,1649.8 314.1,1648.4 314.7,1647.0 315.3,1645.5 315.8,1644.1 316.3,1642.6 316.6,1641.1 317.0,1639.6 317.5,1638.2 318.0,1637.0 318.5,1636.2 319.0,1635.4 319.5,1634.7 320.0,1634.1 320.6,1633.9 321.1,1633.9 321.6,1634.2 322.1,1634.6 322.5,1635.0 323.0,1635.5 323.5,1636.2 324.0,1637.1 324.5,1638.1 324.9,1639.1 325.5,1640.2 326.3,1641.7 327.3,1643.3 328.3,1644.9 329.3,1646.5 330.4,1648.0 331.5,1649.3 332.7,1650.6 333.9,1651.7 335.1,1652.8 336.2,1653.8 337.0,1654.4 337.7,1654.9 338.5,1655.4 339.2,1655.9 340.0,1656.5 340.9,1657.4 341.9,1658.4 342.9,1659.5 343.9,1660.5 345.0,1661.3 346.2,1661.9 347.5,1662.5 348.9,1663.0 350.2,1663.1 351.3,1663.0 352.3,1662.4 353.2,1661.5 354.1,1660.4 354.8,1659.0 355.5,1657.6 356.3,1655.1 356.8,1652.2 357.1,1648.9 357.4,1645.4 357.7,1641.9 358.2,1637.2 358.6,1632.2 359.0,1626.9 359.5,1621.4 359.9,1615.7 360.5,1608.3 361.1,1600.6 361.7,1592.5 362.3,1584.4 362.9,1576.4 363.5,1568.5 364.0,1560.7 364.5,1552.8 365.0,1545.0 365.5,1537.1 366.0,1529.2 366.5,1521.4 366.9,1513.5 367.4,1505.7 367.8,1497.8 368.2,1490.0 368.6,1482.1 369.0,1474.3 369.4,1466.4 369.9,1458.6 370.5,1450.5 371.1,1442.1 371.7,1433.9 372.4,1426.1 373.0,1419.3 373.4,1415.3 373.8,1411.5 374.2,1408.1 374.6,1404.9 375.0,1402.0 375.3,1400.0 375.6,1398.0 375.8,1396.2 376.1,1394.9 376.4,1394.4 376.7,1394.9 377.0,1396.2 377.3,1398.0 377.6,1400.0 377.9,1402.0 378.3,1404.9 378.7,1408.1 379.1,1411.5 379.5,1415.3 379.9,1419.3 380.5,1426.1 381.0,1433.9 381.6,1442.1 382.1,1450.5 382.6,1458.6 383.0,1466.4 383.4,1474.3 383.8,1482.1 384.2,1490.0 384.5,1497.8 384.8,1505.7 385.0,1513.5 385.3,1521.4 385.5,1529.2 385.8,1537.1 386.1,1545.0 386.5,1552.8 386.9,1560.7 387.4,1568.5 387.8,1576.4 388.3,1584.4 388.7,1592.5 389.2,1600.6 389.8,1608.4 390.4,1615.7 391.0,1621.4 391.7,1627.0 392.4,1632.3 393.1,1637.3 393.7,1641.9 394.1,1644.8 394.4,1647.5 394.8,1650.0 395.2,1652.5 395.6,1655.0 396.1,1657.6 396.5,1660.3 397.0,1662.9 397.6,1665.5 398.3,1668.0 399.0,1670.6 399.7,1673.3 400.6,1675.9 401.6,1678.1 402.8,1679.8 403.9,1680.6 405.0,1681.0 406.3,1681.3 407.6,1681.6 408.8,1682.0 410.0,1682.6 411.3,1683.3 412.5,1684.0 413.8,1684.6 415.0,1685.0 416.0,1685.2 417.1,1685.3 418.1,1685.4 419.1,1685.3 420.0,1685.0 420.9,1684.5 421.6,1683.9 422.4,1683.1 423.1,1682.3 423.8,1681.3 424.8,1679.6 425.7,1677.5 426.7,1675.3 427.7,1673.2 428.8,1671.3 429.9,1669.8 431.1,1668.4 432.4,1667.1 433.7,1666.0 435.0,1665.0 436.2,1664.3 437.4,1663.7 438.7,1663.2 440.0,1662.8 441.3,1662.5 442.7,1662.4 444.2,1662.4 445.7,1662.5 447.3,1662.7 448.8,1663.0 450.5,1663.5 452.2,1664.1 454.0,1664.8 455.7,1665.5 457.5,1666.3 459.5,1667.2 461.5,1668.1 463.5,1669.2 465.5,1670.2 467.5,1671.3 469.5,1672.5 471.6,1673.8 473.6,1675.1 475.6,1676.4 477.5,1677.5 479.3,1678.4 481.2,1679.3 483.0,1680.2 484.3,1680.8 484.8,1681.0 484.8,1681.0 484.8,1681.0 484.8,1681.0 484.8,1681.0 484.8,1681.0 485.0,1680.9 485.4,1680.5 485.9,1680.0 486.5,1679.4 487.0,1678.8 487.7,1677.5 488.3,1675.8 488.8,1674.0 489.4,1672.0 490.0,1670.0 490.7,1667.4 491.5,1664.6 492.2,1661.8 493.0,1658.9 493.8,1656.3 494.5,1654.1 495.1,1651.9 495.8,1649.8 496.6,1647.9 497.5,1646.3 498.2,1645.4 498.9,1644.6 499.7,1643.9 500.5,1643.4 501.3,1643.0 502.0,1642.8 502.7,1642.7 503.5,1642.7 504.2,1642.8 505.0,1643.0 506.0,1643.4 507.0,1643.9 508.0,1644.6 509.0,1645.4 510.0,1646.3 511.3,1647.7 512.5,1649.4 513.8,1651.2 515.0,1653.1 516.3,1655.0 517.8,1657.2 519.2,1659.4 520.7,1661.7 522.2,1664.0 523.8,1666.3 525.5,1668.6 527.2,1671.0 528.9,1673.3 530.7,1675.5 532.5,1677.5 534.2,1679.2 536.0,1680.9 537.8,1682.4 539.6,1683.8 541.3,1685.0 542.6,1685.8 543.9,1686.6 545.2,1687.3 546.4,1687.8 547.5,1688.0 548.1,1687.9 548.8,1687.7 549.4,1687.4 549.8,1687.1 550.0,1687.0 550.0,1687.0 550.0,1687.0 550.0,1687.0 550.0,1687.0 550.0,1687.0 550.2,1685.9 550.5,1682.9 551.1,1678.9 551.6,1674.3 552.0,1670.0 552.4,1663.9 552.8,1657.1 553.2,1649.9 553.5,1642.5 553.8,1635.0 554.2,1626.3 554.5,1617.1 554.8,1607.9 555.2,1598.7 555.5,1590.0 555.8,1582.4 556.0,1574.8 556.3,1567.5 556.6,1560.8 557.0,1555.0 557.3,1551.7 557.7,1548.3 558.1,1545.4 558.4,1543.3 558.5,1542.5 558.5,1542.5 558.5,1542.5 558.5,1542.5 558.5,1542.5 558.5,1542.5 558.6,1544.0 558.9,1547.8 559.3,1553.2 559.7,1559.2 560.0,1565.0 560.4,1573.8 560.7,1583.7 561.1,1594.2 561.4,1604.9 561.8,1615.0 562.2,1624.3 562.5,1633.7 562.9,1642.9 563.3,1651.7 563.8,1660.0 564.2,1666.1 564.6,1672.0 565.0,1677.6 565.6,1682.8 566.3,1687.5 566.9,1690.4 567.5,1693.1 568.2,1695.5 569.0,1697.8 570.0,1700.0 571.0,1701.7 572.2,1703.4 573.5,1704.9 574.8,1706.2 576.3,1707.5 577.9,1708.6 579.5,1709.6 581.3,1710.5 583.1,1711.3 585.0,1712.0 587.3,1712.8 589.8,1713.4 592.4,1714.0 595.0,1714.5 597.5,1715.0 600.0,1715.4 602.5,1715.6 605.0,1715.9 607.4,1716.1 609.8,1716.3 611.8,1716.5 613.7,1716.8 615.5,1717.0 617.5,1717.3 619.7,1717.5 623.3,1717.8 627.2,1718.0 631.4,1718.2 635.6,1718.3 639.6,1718.5 643.2,1718.7 646.8,1718.9 650.3,1719.1 653.7,1719.2 657.0,1719.2 659.6,1719.0 662.2,1718.8 664.6,1718.5 667.0,1718.2 669.5,1718.0 672.1,1717.8 674.9,1717.4 677.6,1717.2 680.0,1717.3 681.9,1718.0 683.0,1719.1 683.8,1720.5 684.4,1722.2 685.0,1723.8 685.6,1725.4 686.2,1726.9 686.9,1728.6 687.5,1730.2 688.1,1731.4 688.9,1732.0 689.6,1731.8 690.4,1731.1 691.3,1730.1 692.1,1729.0 693.1,1727.9 694.6,1726.4 696.3,1724.8 698.1,1723.0 699.9,1721.3 701.8,1719.7 703.9,1718.1 706.4,1716.3 708.8,1714.7 710.6,1713.5 711.3,1713.0"/>
<path class="rd" stroke-width="4.0" d="M129.0 1700.0H179.3 V1683.0H245.3 V1667.0H311.3 V1659.5H378.0 V1652.5H443.0 V1646.3H509.5 V1597.6H639.6 V1700.5H711.3"/>
<path class="ov" stroke-width="3.20" d="M179.3 1681.6V1701.4M245.3 1665.6V1684.4M311.3 1658.1V1668.4M378.0 1651.1V1660.9M443.0 1644.9V1653.9M509.5 1592.6V1649.4M639.6 1590.2V1700.5"/>
</g>
<g class="panel">
<path class="axis" d="M130.5 1798.0V2188.3H709.7"/>
<path class="tick" d="M124.5 1854.5H130.5M124.5 1947.5H130.5M124.5 2040.5H130.5M124.5 2133.5H130.5M180.4 2188.3V2194.3M246.5 2188.3V2194.3M312.7 2188.3V2194.3M378.8 2188.3V2194.3M445.0 2188.3V2194.3M511.1 2188.3V2194.3M577.2 2188.3V2194.3M643.4 2188.3V2194.3M709.5 2188.3V2194.3"/>
<g class="tl" font-size="14">
<text x="115.6" y="1859.5" text-anchor="end">150</text>
<text x="115.6" y="1952.5" text-anchor="end">100</text>
<text x="115.6" y="2045.5" text-anchor="end">50</text>
<text x="115.6" y="2138.5" text-anchor="end">0</text>
<text x="180.4" y="2217.0" text-anchor="middle">4</text>
<text x="246.5" y="2217.0" text-anchor="middle">6</text>
<text x="312.7" y="2217.0" text-anchor="middle">8</text>
<text x="378.8" y="2217.0" text-anchor="middle">10</text>
<text x="445.0" y="2217.0" text-anchor="middle">12</text>
<text x="511.1" y="2217.0" text-anchor="middle">14</text>
<text x="577.2" y="2217.0" text-anchor="middle">16</text>
<text x="643.4" y="2217.0" text-anchor="middle">18</text>
<text x="709.5" y="2217.0" text-anchor="middle">20</text>
</g>
<polyline class="bk" stroke-width="4.3" points="130.5,2126.8 131.0,2126.7 132.3,2126.5 134.0,2126.3 135.9,2126.1 137.5,2126.2 139.0,2126.5 140.6,2126.9 142.2,2127.4 143.7,2128.1 145.2,2128.9 146.8,2130.1 148.3,2131.6 149.7,2133.2 151.2,2134.7 152.8,2136.0 154.3,2136.9 155.8,2137.8 157.4,2138.5 158.9,2139.1 160.5,2139.6 162.0,2139.9 163.5,2140.1 165.1,2140.1 166.6,2140.1 168.1,2139.9 169.7,2139.6 171.2,2139.3 172.8,2138.8 174.3,2138.2 175.8,2137.5 177.4,2136.6 178.9,2135.5 180.4,2134.3 181.9,2133.1 183.4,2132.0 184.9,2130.9 186.5,2129.8 188.0,2128.8 189.5,2127.7 191.1,2126.8 192.6,2126.0 194.1,2125.1 195.6,2124.4 197.1,2123.7 198.7,2123.1 200.5,2122.6 202.4,2122.3 204.3,2122.0 206.2,2121.7 207.9,2121.3 209.2,2121.0 210.5,2120.6 211.8,2120.2 212.9,2119.8 214.0,2119.1 215.1,2118.2 216.0,2117.0 216.9,2115.8 217.8,2114.4 218.6,2113.0 219.6,2111.1 220.6,2109.1 221.5,2106.9 222.4,2104.6 223.2,2102.3 224.1,2099.5 224.9,2096.6 225.6,2093.5 226.3,2090.6 226.9,2088.0 227.3,2086.3 227.7,2084.9 228.1,2083.4 228.5,2081.9 228.8,2080.0 229.3,2075.7 229.7,2070.5 230.1,2064.8 230.4,2058.8 230.7,2052.8 231.0,2045.8 231.3,2038.5 231.5,2030.9 231.7,2023.2 231.9,2015.2 232.2,2005.7 232.4,1995.7 232.7,1985.5 232.9,1975.3 233.2,1965.2 233.4,1955.1 233.7,1944.8 233.9,1934.6 234.2,1924.7 234.4,1915.1 234.6,1907.0 234.8,1898.9 235.0,1891.2 235.2,1884.0 235.4,1877.6 235.5,1874.0 235.7,1870.6 235.9,1867.6 236.0,1864.7 236.2,1862.0 236.3,1859.9 236.5,1857.7 236.6,1855.8 236.8,1854.3 236.9,1853.8 237.0,1854.3 237.2,1855.8 237.3,1857.7 237.5,1859.9 237.6,1862.0 237.8,1864.7 237.9,1867.6 238.0,1870.6 238.2,1874.0 238.4,1877.6 238.9,1884.0 239.5,1891.2 240.1,1898.9 240.8,1907.0 241.3,1915.1 241.8,1924.8 242.1,1935.0 242.5,1945.3 242.8,1955.5 243.2,1965.2 243.6,1973.2 244.0,1981.0 244.4,1988.5 244.8,1995.8 245.3,2002.7 245.7,2008.1 246.2,2013.3 246.7,2018.3 247.2,2023.1 247.8,2027.8 248.3,2031.9 248.9,2036.0 249.4,2039.9 250.0,2043.4 250.7,2046.5 251.1,2048.1 251.5,2049.5 252.0,2050.8 252.4,2052.0 253.0,2053.0 253.5,2053.8 254.1,2054.6 254.6,2055.3 255.2,2055.8 255.7,2055.9 256.3,2055.2 256.9,2053.6 257.3,2051.6 257.8,2049.6 258.2,2047.8 258.5,2046.5 258.7,2045.2 259.0,2044.0 259.3,2042.9 259.6,2042.2 259.8,2042.0 260.0,2041.8 260.3,2041.6 260.5,2041.5 260.7,2041.5 260.9,2041.6 261.2,2041.7 261.4,2041.9 261.6,2042.2 261.8,2042.5 262.0,2043.1 262.2,2043.8 262.3,2044.7 262.5,2045.6 262.6,2046.5 262.8,2048.0 262.9,2049.7 263.1,2051.4 263.3,2052.9 263.8,2054.0 264.2,2054.4 264.6,2054.6 265.1,2054.8 265.5,2054.9 266.0,2055.0 266.4,2055.0 266.9,2054.8 267.4,2054.7 267.8,2054.6 268.2,2054.7 268.7,2055.3 269.1,2056.3 269.5,2057.6 269.8,2059.0 270.1,2060.3 270.5,2061.9 270.8,2063.6 271.1,2065.4 271.4,2067.3 271.6,2069.1 271.8,2071.1 271.8,2073.1 271.9,2075.1 272.0,2077.2 272.2,2079.3 272.6,2081.8 273.1,2084.4 273.8,2087.0 274.5,2089.5 275.2,2091.6 275.7,2092.9 276.3,2094.2 276.9,2095.3 277.6,2096.3 278.3,2097.1 278.9,2097.5 279.5,2097.9 280.1,2098.2 280.8,2098.3 281.4,2098.3 282.3,2098.0 283.2,2097.4 284.1,2096.5 285.0,2095.6 285.9,2094.6 287.0,2093.3 288.1,2091.9 289.2,2090.3 290.3,2088.7 291.2,2087.0 292.1,2085.0 293.0,2082.9 293.7,2080.6 294.4,2078.4 295.1,2076.3 295.6,2074.3 296.1,2072.3 296.6,2070.4 297.0,2068.6 297.6,2067.1 298.0,2066.2 298.4,2065.4 298.9,2064.7 299.3,2064.2 299.7,2064.0 300.2,2064.4 300.6,2065.5 300.9,2066.9 301.3,2068.6 301.6,2070.2 302.0,2072.9 302.4,2076.0 302.7,2079.3 303.0,2082.5 303.4,2085.5 303.8,2087.8 304.1,2090.1 304.6,2092.3 305.1,2094.3 305.8,2096.2 306.6,2097.6 307.5,2098.9 308.4,2100.0 309.4,2101.2 310.4,2102.3 311.3,2103.5 312.3,2104.9 313.2,2106.2 314.1,2107.1 314.7,2107.4 315.1,2106.8 315.4,2105.6 315.5,2103.9 315.5,2102.0 315.6,2100.0 315.8,2095.1 315.8,2088.5 315.9,2081.9 315.9,2076.8 315.9,2074.7 316.0,2076.8 316.0,2081.9 316.1,2088.6 316.2,2095.1 316.4,2100.0 316.5,2101.8 316.5,2103.6 316.5,2105.2 316.7,2106.3 317.1,2106.9 317.5,2106.8 318.0,2106.3 318.5,2105.6 319.2,2104.9 319.9,2104.4 321.4,2104.0 323.2,2103.9 325.2,2103.9 327.3,2104.1 329.1,2104.4 330.7,2104.9 332.2,2105.7 333.7,2106.5 335.2,2107.5 336.7,2108.4 338.3,2109.4 339.8,2110.6 341.4,2111.8 342.9,2112.9 344.4,2113.9 345.7,2114.7 346.9,2115.5 348.2,2116.2 349.4,2116.7 350.5,2117.0 351.4,2117.0 352.2,2117.0 353.0,2116.8 353.8,2116.5 354.5,2116.0 355.3,2115.1 355.9,2114.0 356.4,2112.7 356.9,2111.3 357.5,2110.0 358.1,2108.6 358.7,2107.0 359.2,2105.5 359.9,2104.1 360.6,2103.2 361.1,2102.8 361.7,2102.5 362.2,2102.3 362.8,2102.2 363.3,2102.3 364.0,2102.8 364.6,2103.6 365.2,2104.6 365.8,2105.7 366.4,2106.9 367.1,2108.5 367.8,2110.3 368.4,2112.3 369.1,2114.2 369.8,2116.0 370.4,2117.7 371.1,2119.4 371.7,2121.1 372.5,2122.6 373.4,2123.7 374.2,2124.2 375.2,2124.5 376.1,2124.6 377.1,2124.8 378.0,2125.2 379.0,2125.9 379.8,2126.9 380.7,2127.9 381.6,2128.9 382.6,2129.8 383.7,2130.7 384.9,2131.6 386.1,2132.4 387.3,2133.1 388.7,2133.8 390.4,2134.4 392.1,2134.9 394.0,2135.2 395.9,2135.6 397.9,2135.9 400.3,2136.3 402.8,2136.7 405.3,2137.0 407.8,2137.3 410.2,2137.5 412.1,2137.6 414.0,2137.7 415.9,2137.8 417.6,2137.7 419.3,2137.5 420.6,2137.1 421.8,2136.6 423.0,2136.0 424.2,2135.4 425.5,2135.0 427.2,2134.7 428.9,2134.5 430.8,2134.3 432.7,2134.3 434.6,2134.4 436.9,2134.7 439.3,2135.2 441.8,2135.8 444.3,2136.4 446.9,2136.9 449.9,2137.4 452.9,2137.8 456.1,2138.2 459.2,2138.6 462.2,2139.0 465.0,2139.4 467.9,2139.7 470.6,2140.0 473.4,2140.3 476.0,2140.5 478.3,2140.6 480.5,2140.8 482.6,2140.8 484.7,2140.8 486.7,2140.5 488.3,2140.0 489.7,2139.3 491.1,2138.6 492.6,2137.9 494.3,2137.3 496.9,2136.8 499.8,2136.5 502.9,2136.3 506.0,2136.3 509.1,2136.3 512.3,2136.5 515.5,2136.8 518.8,2137.3 522.0,2137.8 525.0,2138.3 527.4,2138.8 529.8,2139.4 532.0,2139.9 534.3,2140.4 536.7,2140.8 539.9,2141.0 543.7,2141.0 547.3,2140.9 550.0,2140.8 551.1,2140.8 551.1,2140.8 551.1,2140.8 551.1,2140.8 551.1,2140.8 551.1,2140.8 551.3,2140.1 551.9,2138.4 552.6,2136.0 553.4,2133.5 553.9,2131.2 554.2,2129.1 554.5,2127.0 554.7,2124.9 554.8,2122.6 555.0,2120.1 555.3,2116.1 555.6,2111.8 555.9,2107.2 556.2,2102.5 556.5,2097.9 556.7,2093.4 557.0,2089.0 557.2,2084.5 557.4,2080.1 557.6,2075.6 557.9,2071.1 558.1,2066.4 558.4,2061.8 558.7,2057.4 558.9,2053.4 559.1,2050.6 559.2,2047.9 559.4,2045.4 559.5,2043.0 559.7,2041.0 559.8,2039.8 560.0,2038.5 560.1,2037.4 560.3,2036.6 560.3,2036.3 560.3,2036.3 560.3,2036.3 560.3,2036.3 560.3,2036.3 560.3,2036.3 560.4,2036.6 560.5,2037.4 560.7,2038.5 560.9,2039.8 561.1,2041.0 561.3,2043.0 561.6,2045.4 561.8,2047.9 562.1,2050.6 562.3,2053.4 562.6,2057.4 563.0,2061.8 563.3,2066.4 563.6,2071.1 563.9,2075.6 564.2,2080.1 564.4,2084.7 564.7,2089.2 564.9,2093.6 565.2,2097.9 565.4,2101.5 565.7,2104.9 565.9,2108.3 566.2,2111.5 566.5,2114.6 566.8,2117.0 567.1,2119.2 567.5,2121.4 567.9,2123.5 568.4,2125.7 568.9,2128.0 569.5,2130.2 570.2,2132.5 570.9,2134.7 571.7,2136.8 572.5,2138.7 573.4,2140.5 574.4,2142.3 575.5,2144.0 576.7,2145.7 578.2,2147.5 579.9,2149.2 581.7,2150.9 583.6,2152.5 585.6,2154.0 587.7,2155.4 589.9,2156.8 592.2,2158.1 594.4,2159.2 596.7,2160.2 598.8,2161.0 600.9,2161.6 603.0,2162.1 605.1,2162.6 607.0,2163.0 608.5,2163.4 609.8,2163.7 611.2,2163.9 612.6,2164.2 614.2,2164.5 617.1,2164.9 620.3,2165.4 623.8,2165.8 627.1,2166.2 630.1,2166.4 632.1,2166.5 634.0,2166.7 635.9,2166.8 637.5,2166.7 639.0,2166.4 639.9,2166.0 640.7,2165.4 641.4,2164.8 642.1,2164.2 642.9,2163.8 643.8,2163.5 644.7,2163.2 645.7,2163.1 646.7,2163.1 647.6,2163.2 648.5,2163.7 649.4,2164.5 650.2,2165.5 651.2,2166.3 652.4,2167.0 655.0,2167.5 658.1,2167.6 661.6,2167.5 665.1,2167.2 668.3,2167.0 671.0,2166.6 673.6,2165.9 676.2,2165.3 678.5,2165.0 680.4,2165.4 681.5,2166.2 682.4,2167.4 683.0,2168.9 683.6,2170.4 684.3,2171.8 685.0,2173.4 685.5,2175.2 686.1,2176.9 686.7,2178.3 687.5,2179.1 688.1,2179.2 688.7,2179.2 689.3,2179.0 690.0,2178.6 690.6,2178.2 691.6,2176.9 692.5,2175.1 693.4,2172.9 694.4,2170.7 695.4,2168.6 696.6,2166.6 697.8,2164.7 699.1,2162.7 700.4,2160.8 701.8,2159.0 703.5,2156.9 705.6,2154.7 707.6,2152.6 709.1,2151.0 709.7,2150.4"/>
<path class="rd" stroke-width="4.1" d="M130.5 2133.9H180.0 V2102.0H245.8 V2070.8H311.8 V2058.5H378.2 V2046.5H444.6 V2033.8H510.3 V1947.2H639.3 V2133.6H711.3"/>
<path class="ov" stroke-width="3.28" d="M180.0 2098.3V2135.3M245.8 2069.4V2103.4M311.8 2057.1V2072.2M378.2 2045.1V2059.9M444.6 2032.4V2047.9M510.3 1947.2V2038.0M639.3 1928.8V2151.0"/>
</g>
<text class="pl" x="629.6" y="17.0" font-size="24" letter-spacing="-0.6">Hp</text>
<text class="pl" x="643.2" y="465.3" font-size="27" textLength="21.2" lengthAdjust="spacingAndGlyphs">A</text>
<text class="pl" x="648.6" y="896.0" font-size="26">B</text>
<text class="pl" x="666.1" y="1368.8" font-size="26">C</text>
<text class="pl" x="666.8" y="1826.4" font-size="25">D</text>
<text class="an" x="144.0" y="2175.7" font-size="28.6" textLength="45.4" lengthAdjust="spacingAndGlyphs">0.5</text>
<text class="an" x="196.9" y="2154.3" font-size="28.6" textLength="44.5" lengthAdjust="spacingAndGlyphs">1.0</text>
<text class="an" x="259.4" y="2135.0" font-size="28.6" textLength="44.2" lengthAdjust="spacingAndGlyphs">1.2</text>
<text class="an" x="322.7" y="2052.7" font-size="28.6" textLength="44.5" lengthAdjust="spacingAndGlyphs">1.4</text>
<text class="an" x="386.9" y="2033.4" font-size="28.6" textLength="45.5" lengthAdjust="spacingAndGlyphs">1.6</text>
<text class="an" x="454.9" y="2014.2" font-size="28.6" textLength="44.8" lengthAdjust="spacingAndGlyphs">1.8</text>
<text class="an" x="546.1" y="1937.6" font-size="28.6" textLength="49.8" lengthAdjust="spacingAndGlyphs">2M</text>
<text class="ttl" font-size="48" transform="translate(37.5 1368) rotate(-90)" textLength="566" lengthAdjust="spacingAndGlyphs">Absorbance 232nm (mAU)</text>
<text class="ttl" font-size="35" x="258.5" y="2280" textLength="352.5" lengthAdjust="spacingAndGlyphs">Elution Volume (ml)</text>
</svg>
</body></html>
